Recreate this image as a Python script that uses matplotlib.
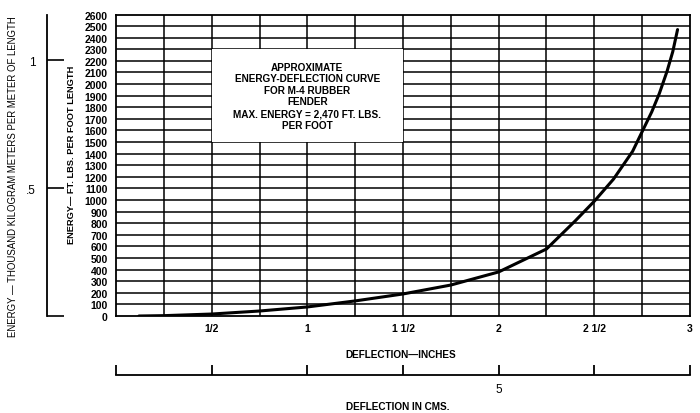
import matplotlib
matplotlib.use("Agg")
import matplotlib.pyplot as plt
from matplotlib.patches import Rectangle

plt.rcParams['font.family'] = ['Liberation Sans', 'DejaVu Sans']

# ---- data ----
deflection_in = [0.12, 0.25, 0.5, 0.75, 1.0, 1.25, 1.5, 1.75, 2.0, 2.25, 2.4,
                 2.5, 2.6, 2.7, 2.75, 2.8, 2.84, 2.88, 2.91, 2.935]
energy_ftlb = [0, 3, 17, 43, 78, 130, 190, 267, 380, 578, 820,
               990, 1180, 1420, 1590, 1760, 1920, 2110, 2280, 2470]

x_tick_vals = [0.5, 1.0, 1.5, 2.0, 2.5, 3.0]
x_tick_labels = ["1/2", "1", "1 1/2", "2", "2 1/2", "3"]
y_tick_vals = list(range(0, 2700, 100))
metric_ticks = [0, 0.5, 1.0]
metric_labels = ["", ".5", "1"]
cm_tick_in = [0, 0.5, 1.0, 1.5, 2.0, 2.5, 3.0]
cm_tick_labels = ["", "", "", "", "5", "", ""]
FTLB_PER_FT_TO_KKGM_PER_M = 0.138255 / 0.3048 / 1000.0

box_x = (0.5, 1.5)
box_y = (1500, 2300)
box_text = ("APPROXIMATE\nENERGY-DEFLECTION CURVE\nFOR M-4 RUBBER\nFENDER\n"
            "MAX. ENERGY = 2,470 FT. LBS.\nPER FOOT")

W, H = 700, 414
fig = plt.figure(figsize=(W / 100, H / 100), dpi=100)

L, R, T, B = 116, 690, 15.5, 317
ax = fig.add_axes([L / W, (H - B) / H, (R - L) / W, (B - T) / H])
ax.set_xlim(0, 3)
ax.set_ylim(0, 2600)

# grid
for gx in [i * 0.25 for i in range(1, 12)]:
    ax.axvline(gx, color='black', lw=1.1, zorder=1)
for gy in y_tick_vals[1:-1]:
    ax.axhline(gy, color='black', lw=1.1, zorder=1)

# white box with title
ax.add_patch(Rectangle((box_x[0], box_y[0]), box_x[1] - box_x[0], box_y[1] - box_y[0],
                       facecolor='white', edgecolor='none', zorder=2))
ax.text(1.0, 1900, box_text, ha='center', va='center', fontsize=7.2,
        fontweight='bold', linespacing=1.2, zorder=3)

ax.plot(deflection_in, energy_ftlb, color='black', lw=2.2, zorder=4,
        solid_capstyle='round', solid_joinstyle='round')

for s in ax.spines.values():
    s.set_linewidth(1.3)

ax.set_xticks(x_tick_vals)
ax.set_xticklabels(x_tick_labels, fontsize=7.5, fontweight='bold')
ax.set_yticks(y_tick_vals)
ax.set_yticklabels([str(v) for v in y_tick_vals], fontsize=7.5, fontweight='bold')
ax.tick_params(axis='both', length=0, pad=5)
ax.tick_params(axis='y', pad=6)

# secondary metric axis at left
sec = ax.secondary_yaxis((47 - L) / (R - L),
                         functions=(lambda y: y * FTLB_PER_FT_TO_KKGM_PER_M,
                                    lambda m: m / FTLB_PER_FT_TO_KKGM_PER_M))
sec.set_yticks(metric_ticks)
sec.set_yticklabels(metric_labels, fontsize=8.5)
sec.tick_params(axis='y', direction='in', length=12, width=1.2, pad=8)
sec.spines['left'].set_linewidth(1.3)

fig.text(72 / W, (H - 155) / H, "ENERGY\u2014 FT. LBS. PER FOOT LENGTH",
         rotation=90, ha='center', va='center', fontsize=6.7, fontweight='bold')
fig.text(13 / W, (H - 337) / H,
         "ENERGY \u2014 THOUSAND KILOGRAM METERS PER METER OF LENGTH",
         rotation=90, ha='center', va='bottom', fontsize=6.9)

fig.text(401 / W, (H - 355) / H, "DEFLECTION\u2014INCHES", ha='center',
         va='center', fontsize=7.2, fontweight='bold')

# centimetre scale
axc = fig.add_axes([L / W, (H - 376) / H, (R - L) / W, 0.0001])
axc.set_xlim(0, 3)
axc.set_ylim(0, 1)
for k in ['top', 'left', 'right']:
    axc.spines[k].set_visible(False)
axc.spines['bottom'].set_linewidth(1.3)
axc.set_yticks([])
axc.set_xticks(cm_tick_in)
axc.set_xticklabels(cm_tick_labels, fontsize=8.5)
axc.tick_params(axis='x', direction='in', length=7, width=1.3, pad=6)
axc.patch.set_visible(False)

fig.text(398 / W, (H - 407) / H, "DEFLECTION IN CMS.", ha='center',
         va='center', fontsize=7.2, fontweight='bold')

fig.savefig("out.png", dpi=100)
